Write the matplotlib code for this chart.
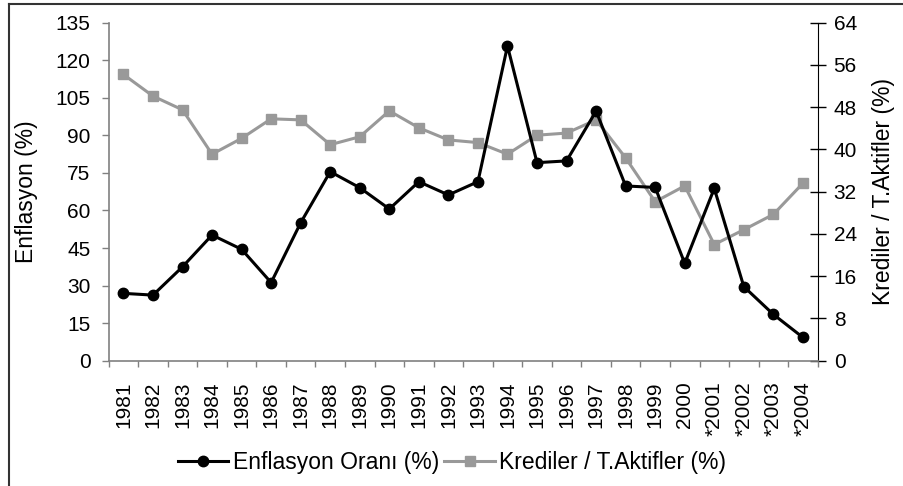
import matplotlib
matplotlib.use('Agg')
import numpy as np
import matplotlib.pyplot as plt
from matplotlib.lines import Line2D

years = ['1981', '1982', '1983', '1984', '1985', '1986', '1987', '1988',
         '1989', '1990', '1991', '1992', '1993', '1994', '1995', '1996',
         '1997', '1998', '1999', '2000', '*2001', '*2002', '*2003', '*2004']
# inflation rate (%) - left axis
enflasyon = [26.9, 26.2, 37.5, 50.2, 44.5, 31.2, 55.1, 75.5, 69.1, 60.6,
             71.5, 66.2, 71.5, 125.7, 79.1, 79.8, 99.7, 69.8, 69.2, 38.9,
             68.8, 29.6, 18.5, 9.3]
# loans / total assets (%) - right axis
krediler = [54.2, 50.1, 47.5, 39.1, 42.1, 45.8, 45.6, 40.9, 42.4, 47.3,
            44.1, 41.8, 41.3, 39.1, 42.7, 43.1, 45.6, 38.4, 30.1, 33.1,
            22.0, 24.8, 27.7, 33.6]
left_ticks = [0, 15, 30, 45, 60, 75, 90, 105, 120, 135]
right_ticks = [0, 8, 16, 24, 32, 40, 48, 56, 64]

plt.rcParams['font.family'] = ['Liberation Sans', 'DejaVu Sans']

grey = '#999999'
x = np.arange(len(years))

fig = plt.figure(figsize=(9.04, 4.86), dpi=100)
ax = fig.add_axes([0.1202, 0.2578, 0.7843, 0.6955])
ax2 = ax.twinx()

ax2.plot(x, krediler, '-s', color=grey, lw=2.2, ms=6.5, zorder=2,
         label='Krediler / T.Aktifler (%)')
ax.plot(x, enflasyon, '-o', color='black', lw=2.2, ms=7.5, zorder=3,
        label='Enflasyon Oranı (%)')
# black series on top
ax.set_zorder(ax2.get_zorder() + 1)
ax.patch.set_visible(False)

ax.set_xlim(-0.5, len(years) - 0.5)
ax.set_ylim(0, 135)
ax2.set_ylim(0, 64)
ax.set_yticks(left_ticks)
ax2.set_yticks(right_ticks)

ax.set_xticks(x)
ax.set_xticklabels(years, rotation=90, va='top', ha='center', fontsize=15)
ax.set_xticks(np.arange(-0.5, len(years)), minor=True)
ax.tick_params(axis='x', which='major', length=0, pad=15)
ax.tick_params(axis='x', which='minor', length=4.5, width=1, color='#808080',
               direction='out')
ax.tick_params(axis='y', length=5, width=1, color='#808080', pad=8,
               labelsize=15)
ax2.tick_params(axis='y', direction='inout', length=11, width=1,
                color='black', pad=6, labelsize=15)

for s in ['top', 'right']:
    ax.spines[s].set_visible(False)
ax.spines['left'].set_color('#808080')
ax.spines['bottom'].set_color('#808080')
ax.spines['left'].set_linewidth(1.2)
ax.spines['bottom'].set_linewidth(1.2)
for s in ['top', 'left', 'bottom']:
    ax2.spines[s].set_visible(False)
ax2.spines['right'].set_color('black')

ax.set_ylabel('Enflasyon (%)', fontsize=16.5, labelpad=13)
ax2.set_ylabel('Krediler / T.Aktifler (%)', fontsize=16.5, labelpad=11)

h1, l1 = ax.get_legend_handles_labels()
h2, l2 = ax2.get_legend_handles_labels()
fig.legend(h1 + h2, l1 + l2, loc='center', bbox_to_anchor=(0.5, 0.048),
           ncol=2, frameon=False, fontsize=16.5, handlelength=2.2,
           handletextpad=0.2, columnspacing=0.25)

# outer frame (clipped at right and bottom)
fig.add_artist(Line2D([0.0095, 1.0], [0.9925, 0.9925], color='#333333',
                      lw=1.5, transform=fig.transFigure))
fig.add_artist(Line2D([0.0095, 0.0095], [0.0, 0.9925], color='#333333',
                      lw=1.5, transform=fig.transFigure))

plt.savefig('out.png', dpi=100)
